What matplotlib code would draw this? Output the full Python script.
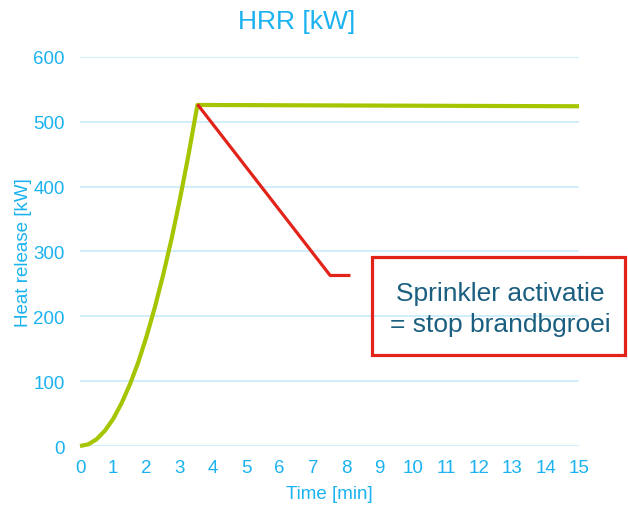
import matplotlib.pyplot as plt
from matplotlib.patches import Rectangle

# Values
growth_time = [0, 0.25, 0.5, 0.75, 1.0, 1.25, 1.5, 1.75, 2.0, 2.25, 2.5, 2.75, 3.0, 3.25, 3.53, 15]
growth_hrr = [0, 2.6, 10.5, 23.7, 42, 66, 95, 129, 169, 214, 264, 319, 380, 446, 526, 524]

sprinkler_time = [3.53, 7.52, 8.13]
sprinkler_hrr = [527, 263, 263]

x_ticks = list(range(0, 16))
y_ticks = [0, 100, 200, 300, 400, 500, 600]

BLUE = '#1AB2F0'
GRID = '#CBEDFB'
GREEN = '#A6C400'
RED = '#E2231A'
TEXT_DARK = '#1B5F80'

plt.rcParams['font.family'] = ['Liberation Sans', 'DejaVu Sans']

fig = plt.figure(figsize=(6.28, 5.06), dpi=100)
ax = fig.add_axes([0.1274, 0.1166, 0.7946, 0.7688])

ax.set_xlim(0, 15)
ax.set_ylim(0, 600)
ax.set_xticks(x_ticks)
ax.set_yticks(y_ticks)
ax.grid(True, axis='y', color=GRID, linewidth=1.3)
ax.set_axisbelow(True)
for s in ax.spines.values():
    s.set_visible(False)
ax.tick_params(axis='both', length=0, labelcolor=BLUE, labelsize=13.5)
ax.tick_params(axis='y', pad=11)
ax.tick_params(axis='x', pad=9)

ax.plot(growth_time, growth_hrr, color=GREEN, linewidth=3, solid_capstyle='butt', clip_on=False, zorder=3)
ax.plot(sprinkler_time, sprinkler_hrr, color=RED, linewidth=2.3, solid_capstyle='butt', clip_on=False, zorder=4)

ax.set_title('HRR [kW]', color=BLUE, fontsize=19, pad=21, x=0.434)
ax.set_xlabel('Time [min]', color=BLUE, fontsize=13.5, labelpad=7)
ax.set_ylabel('Heat release [kW]', color=BLUE, fontsize=13.5, labelpad=1)

# annotation box
box = Rectangle((0.593, 0.2964), 0.402, 0.1937, transform=fig.transFigure,
                fill=False, edgecolor=RED, linewidth=2.3)
fig.patches.append(box)
fig.text(0.797, 0.3883, 'Sprinkler activatie\n= stop brandbgroei', color=TEXT_DARK,
         fontsize=19, ha='center', va='center', linespacing=1.4)

plt.savefig('out.png', dpi=100)
